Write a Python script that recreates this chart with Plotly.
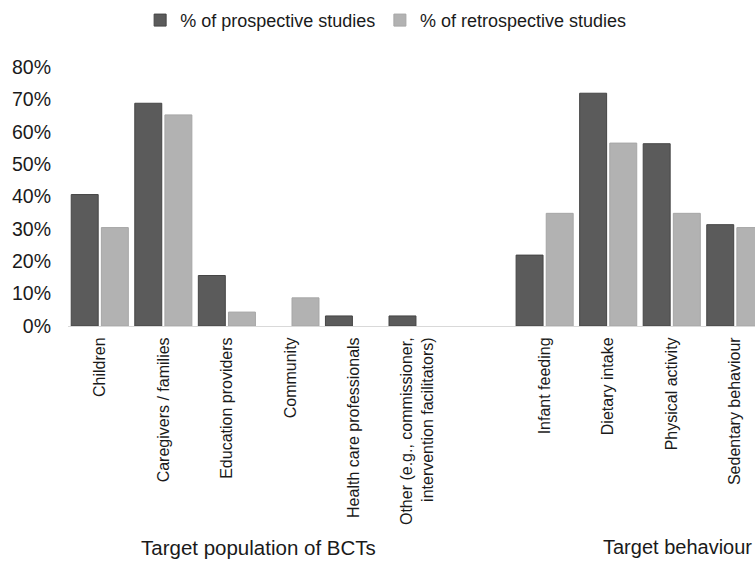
import plotly.graph_objects as go

# Category labels (numeric slots leave an empty gap between the two groups)
population_labels = [
    "Children",
    "Caregivers / families",
    "Education providers",
    "Community",
    "Health care professionals",
    "Other (e.g., commissioner,<br>intervention facilitators)",
]
behaviour_labels = [
    "Infant feeding",
    "Dietary intake",
    "Physical activity",
    "Sedentary behaviour",
]
positions = [0, 1, 2, 3, 4, 5, 7, 8, 9, 10]

# Percent of studies per category
prospective = [40.6, 68.8, 15.6, 0.0, 3.1, 3.1, 21.9, 71.9, 56.3, 31.3]
retrospective = [30.4, 65.2, 4.3, 8.7, 0.0, 0.0, 34.8, 56.5, 34.8, 30.4]

y_ticks = [0, 10, 20, 30, 40, 50, 60, 70, 80]
y_tick_text = [f"{v}%" for v in y_ticks]

FONT = "Arial, 'Liberation Sans', sans-serif"
TEXT = "#1a1a1a"


def outline(values):
    # no outline on empty bars so they do not leave a sliver on the axis
    return [1 if v > 0 else 0 for v in values]


fig = go.Figure()
fig.add_trace(go.Bar(
    x=positions, y=prospective, name="% of prospective studies",
    legend="legend",
    marker=dict(color="#5b5b5b",
                line=dict(color="#454545", width=outline(prospective))),
))
fig.add_trace(go.Bar(
    x=positions, y=retrospective, name="% of retrospective studies",
    legend="legend2",
    marker=dict(color="#b2b2b2",
                line=dict(color="#a6a6a6", width=outline(retrospective))),
))

legend_style = dict(
    orientation="h", xanchor="left", y=1.18, yanchor="middle",
    font=dict(size=18, color=TEXT), bgcolor="rgba(0,0,0,0)",
)

fig.update_layout(
    width=755, height=562,
    margin=dict(l=68, r=0, t=67, b=236),
    paper_bgcolor="white", plot_bgcolor="white",
    barmode="group", bargap=0.052, bargroupgap=0.105,
    font=dict(family=FONT, color=TEXT),
    showlegend=True,
    legend=dict(x=0.105, **legend_style),
    legend2=dict(x=0.454, **legend_style),
    xaxis=dict(
        range=[-0.5, 10.31],
        tickmode="array", tickvals=positions,
        ticktext=population_labels + behaviour_labels,
        tickangle=-90, tickfont=dict(size=16, color=TEXT),
        ticklabelstandoff=4,
        showgrid=False, zeroline=False,
        showline=True, linecolor="#d9d9d9", linewidth=1,
        ticks="",
    ),
    yaxis=dict(
        range=[0, 80], tickmode="array", tickvals=y_ticks, ticktext=y_tick_text,
        tickfont=dict(size=19.5, color=TEXT),
        ticklabelstandoff=16,
        showgrid=False, zeroline=False, showline=False, ticks="",
    ),
    annotations=[
        dict(text="Target population of BCTs", x=2.5, xref="x",
             y=547, yref="paper", showarrow=False,
             font=dict(size=20.5, color=TEXT)),
        dict(text="Target behaviour", x=10.3, xref="x", xanchor="right",
             y=547, yref="paper", showarrow=False,
             font=dict(size=20, color=TEXT)),
    ],
)

# Group titles sit below the rotated tick labels (convert pixel row to paper fraction)
plot_h = 562 - 67 - 236
for ann in fig.layout.annotations:
    ann.y = (562 - 236 - ann.y) / plot_h
    ann.yanchor = "middle"

fig.write_html("out.html")
